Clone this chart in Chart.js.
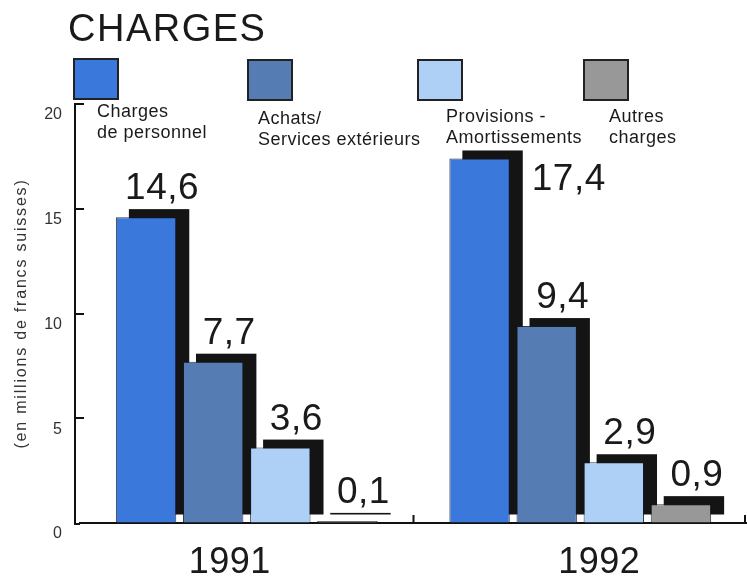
<!DOCTYPE html>
<html>
<head>
<meta charset="utf-8">
<title>Charges</title>
<script src="https://cdn.jsdelivr.net/npm/chart.js@4.4.1/dist/chart.umd.min.js"></script>
<style>
html, body { margin: 0; padding: 0; background: #fff; }
</style>
</head>
<body>
<canvas id="canvas" width="747" height="576"></canvas>
<script>
// data (millions of Swiss francs)
var years = ['1991', '1992']
var charges = ['Charges\nde personnel', 'Achats/\nServices extérieurs', 'Provisions -\nAmortissements', 'Autres\ncharges']
var personnel = [14.6, 17.4]
var achats = [7.7, 9.4]
var provisions = [3.6, 2.9]
var autres = [0.1, 0.9]
var yTicks = [0, 5, 10, 15, 20]

var colors = ['#3a78dc', '#557db4', '#aed0f6', '#989898']
var font = '"Liberation Sans", Arial, Helvetica, sans-serif'
var ink = '#1a1a1a'

// black block behind each bar
var shadowDx = 13, shadowDy = -8

// where the legend boxes and their captions sit
var legendBox = [[74, 59], [248, 60], [418, 60], [584, 60]]
var legendText = [[97, 117], [258, 124], [446, 122], [609, 122]]
var yearShift = [-17, 19]
var axisX = 75

function fmt(v) {
    return v.toFixed(1).replace('.', ',')
}

var decor = {
    id: 'decor',
    beforeDatasetsDraw: function(chart) {
        var ctx = chart.ctx
        ctx.save()
        ctx.fillStyle = '#141414'
        chart.data.datasets.forEach(function(ds, i) {
            chart.getDatasetMeta(i).data.forEach(function(bar) {
                var p = bar.getProps(['x', 'y', 'base', 'width'], true)
                ctx.fillRect(p.x - p.width / 2 + shadowDx, p.y + shadowDy, p.width, p.base - p.y)
            })
        })
        ctx.restore()
    },
    afterDatasetsDraw: function(chart) {
        var ctx = chart.ctx
        ctx.save()
        ctx.fillStyle = ink
        ctx.font = '37px ' + font
        ctx.letterSpacing = '0.5px'
        ctx.textBaseline = 'alphabetic'
        chart.data.datasets.forEach(function(ds, i) {
            chart.getDatasetMeta(i).data.forEach(function(bar, j) {
                var p = bar.getProps(['x', 'y', 'width'], true)
                var txt = fmt(ds.data[j])
                var top = p.y + shadowDy - 10
                if (top - 26 < 150) {
                    // no room under the legend: put it beside the bar
                    ctx.textAlign = 'left'
                    ctx.fillText(txt, p.x + p.width / 2 + shadowDx + 9, p.y + 32)
                } else {
                    ctx.textAlign = 'center'
                    ctx.fillText(txt, p.x + shadowDx + 3, top)
                }
            })
        })
        ctx.restore()
    },
    afterDraw: function(chart) {
        var ctx = chart.ctx
        var area = chart.chartArea
        var x = chart.scales.x, y = chart.scales.y
        ctx.save()

        // title
        ctx.fillStyle = ink
        ctx.font = '38px ' + font
        ctx.letterSpacing = '1.5px'
        ctx.textAlign = 'left'
        ctx.fillText('CHARGES', 68, 41)

        // legend
        ctx.letterSpacing = '0.5px'
        ctx.font = '18px ' + font
        chart.data.datasets.forEach(function(ds, i) {
            var b = legendBox[i]
            ctx.fillStyle = ds.backgroundColor
            ctx.fillRect(b[0], b[1], 44, 40)
            ctx.strokeStyle = '#222'
            ctx.lineWidth = 2
            ctx.strokeRect(b[0], b[1], 44, 40)
            ctx.fillStyle = ink
            ds.label.split('\n').forEach(function(line, k) {
                ctx.fillText(line, legendText[i][0], legendText[i][1] + k * 21)
            })
        })

        // y axis title
        ctx.save()
        ctx.translate(22, (area.top + area.bottom) / 2)
        ctx.rotate(-Math.PI / 2)
        ctx.textAlign = 'center'
        ctx.textBaseline = 'middle'
        ctx.font = '16px ' + font
        ctx.letterSpacing = '1.8px'
        ctx.fillStyle = '#333'
        ctx.fillText('(en millions de francs suisses)', 0, 0)
        ctx.restore()

        // axis lines and inward tick marks
        ctx.strokeStyle = '#111'
        ctx.lineWidth = 2
        ctx.beginPath()
        ctx.moveTo(axisX, area.top)
        ctx.lineTo(axisX, area.bottom + 1)
        ctx.lineTo(area.left, area.bottom + 1)
        yTicks.forEach(function(v) {
            if (v === 0) return
            var py = Math.round(y.getPixelForValue(v))
            ctx.moveTo(axisX - 1, py)
            ctx.lineTo(axisX + 9, py)
        })
        var mid = (x.getPixelForValue(0) + x.getPixelForValue(1)) / 2
        ctx.moveTo(mid, area.bottom)
        ctx.lineTo(mid, area.bottom - 8)
        ctx.moveTo(chart.width - 2, area.bottom)
        ctx.lineTo(chart.width - 2, area.bottom - 8)
        ctx.stroke()

        // year labels
        ctx.fillStyle = ink
        ctx.font = '36px ' + font
        ctx.letterSpacing = '0.5px'
        ctx.textAlign = 'center'
        years.forEach(function(yr, i) {
            ctx.fillText(yr, x.getPixelForValue(i) + yearShift[i], 573)
        })
        ctx.restore()
    }
}

var series = [personnel, achats, provisions, autres]
var datasets = series.map(function(values, i) {
    return {
        label: charges[i],
        data: values,
        backgroundColor: colors[i],
        borderColor: 'rgba(20, 25, 40, 0.85)',
        borderWidth: 1,
        barPercentage: 0.9,
        categoryPercentage: 0.805
    }
})

var chart = new Chart(document.getElementById('canvas').getContext('2d'), {
    type: 'bar',
    data: { labels: years, datasets: datasets },
    options: {
        responsive: false,
        animation: false,
        events: [],
        layout: { padding: { top: 104, left: 0, right: -4, bottom: 0 } },
        plugins: {
            legend: { display: false },
            tooltip: { enabled: false }
        },
        scales: {
            x: {
                grid: { drawOnChartArea: false, drawTicks: false },
                border: { display: true, color: '#111', width: 2 },
                ticks: { display: false },
                afterFit: function(s) { s.height = 53 }
            },
            y: {
                min: 0,
                max: 20,
                afterBuildTicks: function(s) {
                    s.ticks = yTicks.map(function(v) { return { value: v } })
                },
                ticks: {
                    padding: 18,
                    labelOffset: 11,
                    color: '#333',
                    font: { family: font, size: 16 }
                },
                grid: { drawOnChartArea: false, drawTicks: false },
                border: { display: false },
                afterFit: function(s) { s.width = 80 }
            }
        }
    },
    plugins: [decor]
})
</script>
</body>
</html>
